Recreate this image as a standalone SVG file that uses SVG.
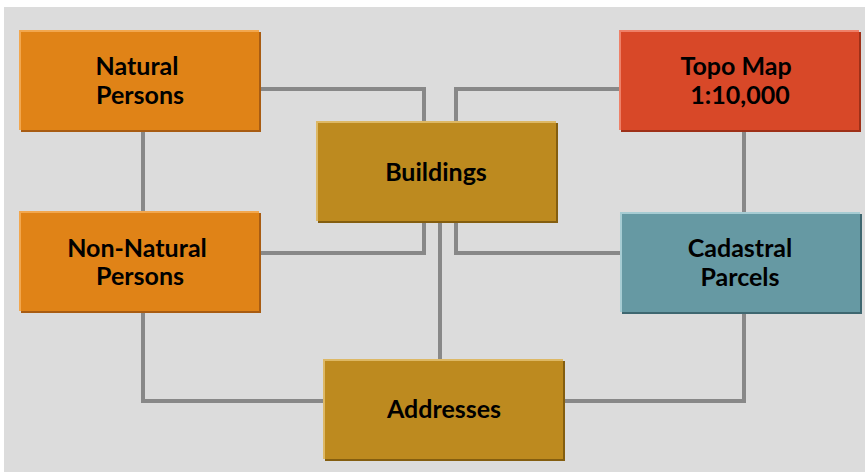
<svg xmlns="http://www.w3.org/2000/svg" width="865" height="472" viewBox="0 0 865 472">
<style>
.lbl{font-family:Lato,"Open Sans","DejaVu Sans",sans-serif;font-weight:bold;font-size:25px;fill:#000;text-anchor:middle}
.conn{fill:none;stroke:#888888;stroke-width:4;stroke-linejoin:miter}
.orange .sh{fill:#A85C12}.orange .hl{fill:#F2A74E}.orange .mn{fill:#E08317}
.red .sh{fill:#9E3018}.red .hl{fill:#EE8068}.red .mn{fill:#D84828}
.gold .sh{fill:#845E10}.gold .hl{fill:#DDB865}.gold .mn{fill:#BD8A1F}
.teal .sh{fill:#3E6770}.teal .hl{fill:#A6CCD3}.teal .mn{fill:#6699A3}
</style>
<rect x="0" y="0" width="865" height="472" fill="#ffffff"/>
<rect x="4" y="7" width="861" height="465" fill="#DCDCDC"/>
<g id="connectors">
<polyline class="conn" points="260,89 424,89 424,122"/>
<polyline class="conn" points="620,89 456,89 456,122"/>
<polyline class="conn" points="143,131 143,212"/>
<polyline class="conn" points="260,253 424,253 424,221"/>
<polyline class="conn" points="621,253 456,253 456,221"/>
<polyline class="conn" points="744,131 744,213"/>
<polyline class="conn" points="440,221 440,360"/>
<polyline class="conn" points="143,311 143,401 324,401"/>
<polyline class="conn" points="744,311 744,401 564,401"/>
</g>
<g id="natural-persons" class="orange">
<rect class="sh" x="21" y="32" width="240" height="100"/>
<rect class="hl" x="19" y="30" width="240" height="100"/>
<rect class="mn" x="21" y="32" width="238" height="98"/>
<text class="lbl" x="137" y="75">Natural</text>
<text class="lbl" x="140" y="104">Persons</text>
</g>
<g id="non-natural-persons" class="orange">
<rect class="sh" x="21" y="213" width="240" height="100"/>
<rect class="hl" x="19" y="211" width="240" height="100"/>
<rect class="mn" x="21" y="213" width="238" height="98"/>
<text class="lbl" x="137" y="257">Non-Natural</text>
<text class="lbl" x="140" y="285">Persons</text>
</g>
<g id="topo-map" class="red">
<rect class="sh" x="621" y="32" width="240" height="100"/>
<rect class="hl" x="619" y="30" width="240" height="100"/>
<rect class="mn" x="621" y="32" width="238" height="98"/>
<text class="lbl" x="736" y="75">Topo Map</text>
<text class="lbl" x="740" y="104">1:10,000</text>
</g>
<g id="buildings" class="gold">
<rect class="sh" x="318" y="123" width="240" height="100"/>
<rect class="hl" x="316" y="121" width="240" height="100"/>
<rect class="mn" x="318" y="123" width="238" height="98"/>
<text class="lbl" x="436" y="181">Buildings</text>
</g>
<g id="cadastral-parcels" class="teal">
<rect class="sh" x="622" y="214" width="240" height="100"/>
<rect class="hl" x="620" y="212" width="240" height="100"/>
<rect class="mn" x="622" y="214" width="238" height="98"/>
<text class="lbl" x="740" y="257">Cadastral</text>
<text class="lbl" x="740" y="286">Parcels</text>
</g>
<g id="addresses" class="gold">
<rect class="sh" x="325" y="361" width="240" height="100"/>
<rect class="hl" x="323" y="359" width="240" height="100"/>
<rect class="mn" x="325" y="361" width="238" height="98"/>
<text class="lbl" x="444" y="418">Addresses</text>
</g>
</svg>
